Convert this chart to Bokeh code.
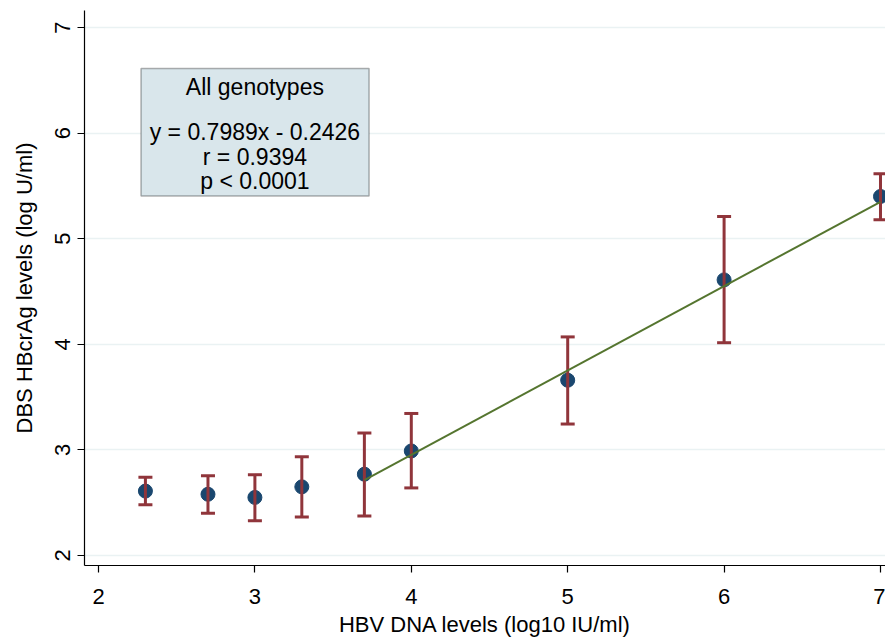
from bokeh.plotting import figure
from bokeh.models import Range1d, BoxAnnotation, FixedTicker
from bokeh.core.properties import value
from bokeh.embed import file_html
from bokeh.resources import INLINE

# data
dna_levels = [2.3, 2.7, 3.0, 3.3, 3.7, 4.0, 5.0, 6.0, 7.0]
hbcrag_mean = [2.61, 2.58, 2.55, 2.65, 2.77, 2.99, 3.66, 4.61, 5.40]
hbcrag_upper = [2.74, 2.755, 2.765, 2.935, 3.16, 3.345, 4.07, 5.21, 5.615]
hbcrag_lower = [2.48, 2.40, 2.33, 2.365, 2.375, 2.64, 3.245, 4.015, 5.18]
fit_slope = 0.7989
fit_intercept = -0.2426
fit_x = [3.7, 7.0]
fit_y = [fit_slope * v + fit_intercept for v in fit_x]
x_ticks = [2, 3, 4, 5, 6, 7]
y_ticks = [2, 3, 4, 5, 6, 7]
box_lines = ["All genotypes", "y = 0.7989x - 0.2426", "r = 0.9394", "p < 0.0001"]
box_line_y = [6.432, 6.015, 5.77, 5.545]

FONT = "Liberation Sans"
NAVY = "#1a476f"
MAROON = "#90353b"
GREEN = "#55752f"

p = figure(width=885, height=640, output_backend="svg", toolbar_location=None,
           x_range=Range1d(1.9105, 7.032), y_range=Range1d(1.9053, 7.161),
           min_border_left=84, min_border_right=0, min_border_top=10, min_border_bottom=75)
p.outline_line_color = None
p.background_fill_color = "white"
p.border_fill_color = "white"

# grid
p.xgrid.visible = False
p.ygrid.ticker = FixedTicker(ticks=y_ticks)
p.ygrid.grid_line_color = "#eaf2f3"
p.ygrid.grid_line_width = 1.5

# axes
for ax in (p.xaxis[0], p.yaxis[0]):
    ax.axis_line_color = "black"
    ax.axis_line_width = 1.2
    ax.major_tick_line_color = "black"
    ax.major_tick_line_width = 1.2
    ax.major_tick_out = 7
    ax.major_tick_in = 0
    ax.minor_tick_line_color = None
    ax.major_label_text_font = FONT
    ax.major_label_text_font_size = "22px"
    ax.major_label_text_color = "black"
    ax.axis_label_text_font = FONT
    ax.axis_label_text_font_size = "22px"
    ax.axis_label_text_font_style = "normal"
    ax.axis_label_text_color = "black"

p.xaxis.ticker = FixedTicker(ticks=x_ticks)
p.yaxis.ticker = FixedTicker(ticks=y_ticks)
p.xaxis.axis_label = "HBV DNA levels (log10 IU/ml)"
p.yaxis.axis_label = "DBS HBcrAg levels (log U/ml)"
p.xaxis.major_label_standoff = 16
p.xaxis.axis_label_standoff = 5
p.yaxis.major_label_standoff = 7
p.yaxis.axis_label_standoff = 16
p.yaxis.major_label_orientation = "vertical"

# annotation box
box = BoxAnnotation(left=2.272, right=3.730, bottom=5.404, top=6.612,
                    fill_color="#d9e6eb", fill_alpha=1.0,
                    line_color="black", line_width=1.5, level="annotation")
p.add_layout(box)

# points
p.scatter(dna_levels, hbcrag_mean, size=14, marker="circle",
          fill_color=NAVY, line_color=NAVY)

# error bars
p.segment(x0=dna_levels, y0=hbcrag_lower, x1=dna_levels, y1=hbcrag_upper,
          line_color=MAROON, line_width=3)
p.scatter(dna_levels, hbcrag_upper, marker="dash", size=14, line_color=MAROON, line_width=3)
p.scatter(dna_levels, hbcrag_lower, marker="dash", size=14, line_color=MAROON, line_width=3)

# fit line
p.line(fit_x, fit_y, line_color=GREEN, line_width=2)

# box text
t = p.text(x=[3.0] * len(box_lines), y=box_line_y, text=box_lines,
           text_font=value(FONT), text_font_size="23px", text_color="black",
           text_align="center", text_baseline="middle")
t.level = "overlay"

open("out.html", "w").write(file_html(p, INLINE))
